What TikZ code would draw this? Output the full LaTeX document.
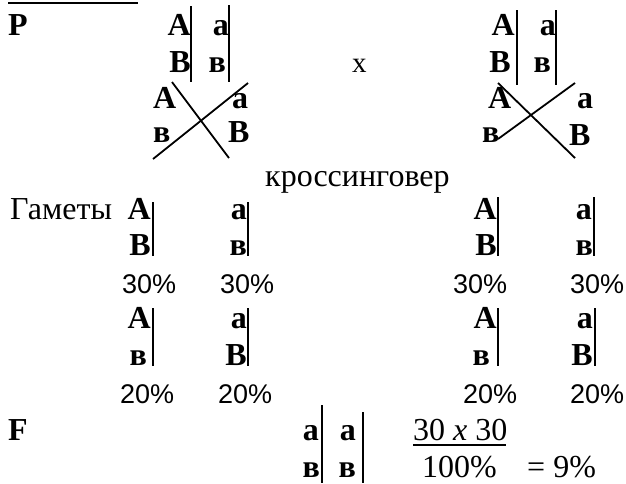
\documentclass[tikz,border=0pt]{standalone}
\usepackage{fontspec}
\setmainfont{Liberation Serif}
\newfontfamily\arialf{Liberation Sans}
\begin{document}
\begin{tikzpicture}[x=1pt,y=-1pt,
  lb/.style={inner sep=0pt, anchor=base east, font=\fontsize{32}{34}\selectfont\bfseries},
  lw/.style={inner sep=0pt, anchor=base west, font=\fontsize{32}{34}\selectfont\bfseries},
  txt/.style={inner sep=0pt, anchor=base west, font=\fontsize{32}{34}\selectfont},
  pct/.style={inner sep=0pt, anchor=base west, font=\arialf\fontsize{27}{30}\selectfont},
  bar/.style={line width=1.4pt},
  xl/.style={line width=1.8pt}]
\useasboundingbox (0,0) rectangle (626,483);
% top rule
\draw[line width=2.5pt] (8,3) -- (138,3);
\node[lw] (P) at (8,35) {P};
% left parent
\node[lb] (lpA) at (191,35) {A};
\node[lb] (lpa) at (229,35) {a};
\node[lb] (lpB) at (191,72) {B};
\node[lb] (lpv) at (226,72) {в};
\draw[bar] (191,6) -- (191,82);
\draw[bar] (229,5) -- (229,82);
\draw[xl] (172,82) -- (229,158);
\draw[xl] (153,159) -- (248,83);
\node[lw] (lcA) at (153,108) {A};
\node[lw] (lca) at (232,108) {a};
\node[lw] (lcv) at (153,142) {в};
\node[lw] (lcB) at (228,142) {B};
% cross sign
\node[inner sep=0pt, anchor=base west, font=\fontsize{29}{31}\selectfont] (X) at (352,72) {x};
% right parent
\node[lb] (rpA) at (515,35) {A};
\node[lb] (rpa) at (556,35) {a};
\node[lb] (rpB) at (511,72) {B};
\node[lb] (rpv) at (551,72) {в};
\draw[bar] (517,10) -- (517,85);
\draw[bar] (556,10) -- (556,85);
\draw[xl] (498,83) -- (575,158);
\draw[xl] (498,139) -- (575,83);
\node[lw] (rcA) at (488,108) {A};
\node[lw] (rca) at (577,108) {a};
\node[lw] (rcv) at (482,142) {в};
\node[lw] (rcB) at (569,145) {B};
% crossing over
\node[txt] (co) at (265,186) {кроссинговер};
% gametes
\node[txt] (gam) at (10,219) {Гаметы};
\node[lb] (g1A) at (151,219) {A};
\node[lb] (g1B) at (151,255) {B};
\draw[bar] (153,202) -- (153,256);
\node[lb] (g2a) at (247,219) {a};
\node[lb] (g2v) at (247,255) {в};
\draw[bar] (248,202) -- (248,256);
\node[lb] (g3A) at (497,219) {A};
\node[lb] (g3B) at (497,255) {B};
\draw[bar] (498,197) -- (498,256);
\node[lb] (g4a) at (592,219) {a};
\node[lb] (g4v) at (593,255) {в};
\draw[bar] (594,197) -- (594,256);
\node[pct] (p1) at (122,293) {30\%};
\node[pct] (p2) at (220,293) {30\%};
\node[pct] (p3) at (453,293) {30\%};
\node[pct] (p4) at (570,293) {30\%};
% recombinant gametes
\node[lb] (r1A) at (151,328) {A};
\node[lb] (r1v) at (147,365) {в};
\draw[bar] (153,308) -- (153,366);
\node[lb] (r2a) at (247,328) {a};
\node[lb] (r2B) at (247,365) {B};
\draw[bar] (248,308) -- (248,366);
\node[lb] (r3A) at (497,328) {A};
\node[lb] (r3v) at (490,365) {в};
\draw[bar] (498,308) -- (498,366);
\node[lb] (r4a) at (593,328) {a};
\node[lb] (r4B) at (593,365) {B};
\draw[bar] (595,308) -- (595,366);
\node[pct] (q1) at (120,403) {20\%};
\node[pct] (q2) at (218,403) {20\%};
\node[pct] (q3) at (463,403) {20\%};
\node[pct] (q4) at (570,403) {20\%};
% F
\node[lw] (F) at (8,440) {F};
\node[lb] (f1a) at (319,440) {a};
\node[lb] (f1v) at (320,477) {в};
\draw[bar] (322,405) -- (322,483);
\node[lb] (f2a) at (356,440) {a};
\node[lb] (f2v) at (356,477) {в};
\draw[bar] (363,412) -- (363,483);
\node[txt] (num) at (413,440) {30 \textit{x} 30};
\draw[line width=2pt] (413,445) -- (506,445);
\node[txt] (den) at (422,477) {100\%};
\node[txt] (res) at (527,477) {= 9\%};
\end{tikzpicture}
\end{document}
